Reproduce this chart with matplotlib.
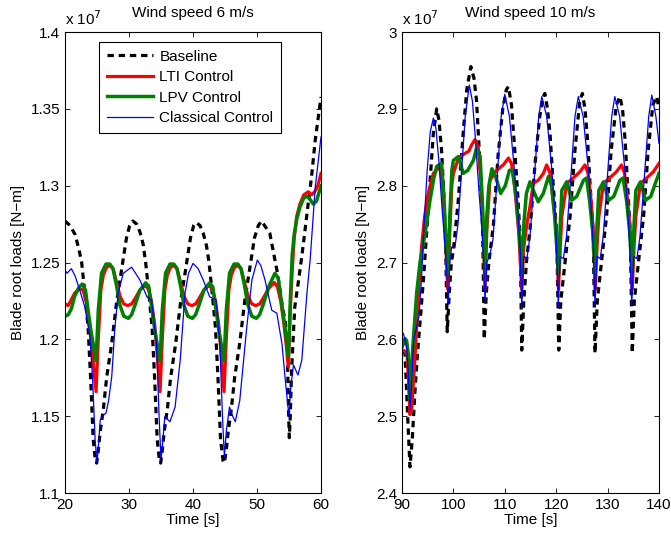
import numpy as np
import matplotlib
matplotlib.use('Agg')
import matplotlib.pyplot as plt

plt.rcParams['font.family'] = ['Liberation Sans', 'DejaVu Sans']

# ---- left panel: wind speed 6 m/s (loads in units of 1e7 N-m) ----
t6_base = [20.0, 20.8, 21.6, 22.2, 22.6, 23.1, 23.6, 24.0, 24.4, 24.75, 24.95, 25.2, 25.5, 26.0, 26.5, 27.3, 28.1, 28.9, 29.6, 30.1,
           30.6, 31.2, 31.7, 32.2, 32.6, 33.1, 33.6, 34.0, 34.4, 34.75, 34.95, 35.2, 35.5, 36.0, 36.5, 37.3, 38.1, 38.9, 39.6, 40.1,
           40.5, 41.1, 41.6, 42.1, 42.5, 43.0, 43.5, 43.9, 44.3, 44.7, 44.9, 45.2, 45.5, 46.0, 46.5, 47.3, 48.1, 48.9, 49.6, 50.2,
           50.7, 52.0, 52.6, 53.2, 53.6, 54.0, 54.4, 54.75, 54.95, 55.05, 55.2, 55.4, 55.9, 56.5, 57.0, 57.5, 58.0, 58.5, 59.1, 60.0]
y6_base = [1.277, 1.274, 1.268, 1.258, 1.250, 1.230, 1.208, 1.175, 1.135, 1.121, 1.1195, 1.128, 1.140, 1.155, 1.175, 1.1975, 1.2256, 1.247, 1.266, 1.274,
           1.277, 1.275, 1.270, 1.262, 1.250, 1.230, 1.208, 1.175, 1.135, 1.121, 1.1195, 1.128, 1.140, 1.155, 1.175, 1.1975, 1.2256, 1.247, 1.266, 1.274,
           1.276, 1.274, 1.269, 1.261, 1.250, 1.230, 1.208, 1.175, 1.135, 1.121, 1.1195, 1.128, 1.140, 1.155, 1.175, 1.1975, 1.2256, 1.247, 1.266, 1.274,
           1.277, 1.269, 1.256, 1.243, 1.232, 1.220, 1.2126, 1.190, 1.150, 1.136, 1.150, 1.180, 1.221, 1.2386, 1.254, 1.271, 1.2885, 1.305, 1.3297, 1.3577]

t6_lti = [20.0, 20.5, 21.0, 21.5, 22.2, 22.8, 23.3, 23.8, 24.3, 24.85, 25.2, 25.6, 26.0, 26.5, 27.0, 27.5, 28.0, 28.6, 29.2, 29.8,
          30.4, 31.0, 31.7, 32.5, 33.0, 33.5, 34.0, 34.4, 34.85, 35.2, 35.6, 36.0, 36.5, 37.0, 37.5, 38.0, 38.6, 39.2, 39.8,
          40.4, 41.0, 41.7, 42.5, 43.0, 43.5, 44.0, 44.4, 44.85, 45.2, 45.6, 46.0, 46.5, 47.0, 47.5, 48.0, 48.6, 49.2, 49.8,
          50.4, 51.0, 51.8, 52.7, 53.2, 53.7, 54.2, 54.6, 54.9, 55.2, 55.5, 55.8, 56.2, 56.7, 57.3, 58.0, 58.5, 59.0, 59.5, 60.0]
y6_lti = [1.223, 1.222, 1.226, 1.230, 1.233, 1.232, 1.225, 1.210, 1.190, 1.166, 1.200, 1.232, 1.242, 1.247, 1.248, 1.246, 1.238, 1.228, 1.223, 1.222,
          1.223, 1.227, 1.232, 1.235, 1.233, 1.225, 1.210, 1.190, 1.166, 1.200, 1.232, 1.242, 1.247, 1.248, 1.246, 1.238, 1.228, 1.223, 1.222,
          1.223, 1.227, 1.232, 1.235, 1.233, 1.225, 1.210, 1.190, 1.166, 1.200, 1.232, 1.242, 1.247, 1.248, 1.246, 1.238, 1.228, 1.223, 1.222,
          1.223, 1.227, 1.233, 1.237, 1.234, 1.225, 1.210, 1.195, 1.182, 1.219, 1.245, 1.265, 1.280, 1.288, 1.294, 1.296, 1.294, 1.296, 1.300, 1.308]

t6_lpv = [20.0, 20.5, 21.0, 21.5, 22.2, 22.7, 23.2, 23.6, 24.0, 24.4, 24.85, 25.2, 25.7, 26.4, 27.0, 27.5, 28.0, 28.6, 29.2, 29.9,
          30.4, 31.0, 31.7, 32.6, 33.1, 33.6, 34.0, 34.4, 34.85, 35.2, 35.7, 36.4, 37.0, 37.5, 38.0, 38.6, 39.2, 39.9,
          40.4, 41.0, 41.7, 42.6, 43.1, 43.6, 44.0, 44.4, 44.85, 45.2, 45.7, 46.4, 47.0, 47.5, 48.0, 48.6, 49.2, 49.9,
          50.4, 51.0, 51.9, 52.8, 53.3, 53.8, 54.3, 54.6, 54.9, 55.2, 55.5, 55.8, 56.2, 56.7, 57.3, 57.8, 58.3, 58.8, 59.3, 60.0]
y6_lpv = [1.215, 1.216, 1.220, 1.228, 1.234, 1.236, 1.232, 1.219, 1.207, 1.197, 1.186, 1.219, 1.243, 1.249, 1.249, 1.246, 1.236, 1.222, 1.215, 1.2137,
          1.216, 1.223, 1.232, 1.2368, 1.234, 1.219, 1.207, 1.197, 1.186, 1.219, 1.243, 1.249, 1.249, 1.246, 1.236, 1.222, 1.215, 1.2137,
          1.216, 1.223, 1.232, 1.2368, 1.234, 1.219, 1.207, 1.197, 1.186, 1.219, 1.243, 1.249, 1.249, 1.246, 1.236, 1.222, 1.215, 1.2137,
          1.216, 1.223, 1.235, 1.243, 1.240, 1.225, 1.210, 1.200, 1.189, 1.225, 1.255, 1.268, 1.278, 1.286, 1.292, 1.293, 1.291, 1.288, 1.290, 1.300]

t6_cls = [20.0, 20.3, 21.0, 21.6, 22.3, 23.1, 23.9, 24.3, 24.7, 25.0, 25.3, 25.5, 26.0, 26.4, 26.8, 27.3, 27.8, 28.3, 29.1, 30.4,
          31.7, 32.8, 33.5, 34.3, 34.7, 35.0, 35.3, 35.6, 36.0, 36.4, 37.2, 38.0, 38.75, 39.3, 40.0,
          40.8, 41.6, 42.6, 43.6, 44.2, 44.6, 44.9, 45.2, 45.7, 46.2, 46.6, 47.3, 48.4, 49.2, 50.05,
          50.6, 51.25, 52.3, 53.1, 53.9, 54.5, 55.0, 55.3, 55.7, 56.4, 57.0, 57.8, 58.3, 59.1, 60.0]
y6_cls = [1.245, 1.243, 1.246, 1.241, 1.232, 1.221, 1.2017, 1.175, 1.135, 1.1195, 1.135, 1.1475, 1.1507, 1.152, 1.160, 1.1757, 1.208, 1.230, 1.243, 1.247,
          1.2386, 1.2277, 1.2256, 1.197, 1.150, 1.1215, 1.135, 1.1497, 1.148, 1.1464, 1.156, 1.1865, 1.230, 1.243, 1.2494,
          1.246, 1.2386, 1.2277, 1.2256, 1.197, 1.150, 1.1236, 1.140, 1.156, 1.150, 1.1464, 1.160, 1.208, 1.2386, 1.2516,
          1.248, 1.2386, 1.219, 1.217, 1.197, 1.170, 1.1497, 1.170, 1.1833, 1.1768, 1.1865, 1.230, 1.2516, 1.299, 1.3317]

# ---- right panel: wind speed 10 m/s ----
t10_base = [90.0, 90.6, 91.1, 91.55, 92.0, 92.5, 93.0, 93.6, 94.2, 94.8, 95.4, 96.1, 96.75, 97.2, 97.7, 98.2, 98.5, 98.8, 99.2, 99.6,
            100.0, 100.95, 101.9, 102.6, 103.4, 104.0, 104.5, 105.2, 105.7, 106.0, 106.4, 106.9, 107.8, 108.7, 109.6, 110.3,
            110.7, 111.3, 111.9, 112.5, 113.0, 113.3, 113.7, 114.2, 115.0, 115.9, 116.8, 117.4, 117.8, 118.3, 118.8, 119.4,
            120.1, 120.5, 120.9, 121.7, 122.7, 123.65, 124.6, 125.1, 125.6, 126.1, 126.6, 127.2, 127.55, 128.0, 128.8, 129.8,
            130.7, 131.7, 132.4, 132.9, 133.4, 133.9, 134.4, 134.8, 135.2, 136.0, 137.0, 137.9, 138.8, 139.55, 140.0]
y10_base = [2.600, 2.580, 2.500, 2.434, 2.470, 2.530, 2.580, 2.630, 2.680, 2.740, 2.800, 2.868, 2.900, 2.885, 2.846, 2.780, 2.720, 2.610, 2.660, 2.700,
            2.716, 2.781, 2.868, 2.925, 2.955, 2.940, 2.911, 2.825, 2.740, 2.600, 2.660, 2.700, 2.750, 2.840, 2.900, 2.925,
            2.929, 2.905, 2.850, 2.790, 2.730, 2.586, 2.650, 2.700, 2.750, 2.830, 2.890, 2.915, 2.920, 2.900, 2.868, 2.803,
            2.738, 2.586, 2.650, 2.699, 2.760, 2.846, 2.911, 2.920, 2.900, 2.860, 2.800, 2.740, 2.582, 2.650, 2.700, 2.760,
            2.846, 2.905, 2.916, 2.900, 2.860, 2.800, 2.740, 2.582, 2.650, 2.700, 2.760, 2.846, 2.905, 2.916, 2.900]

t10_lti = [90.0, 90.5, 91.0, 91.3, 91.55, 91.9, 92.5, 93.2, 93.8, 94.4, 95.1, 96.1, 97.0, 97.4, 97.9, 98.4, 98.9, 99.3, 99.7,
           100.0, 101.0, 102.25, 103.0, 103.55, 104.2, 104.85, 105.4, 105.8, 106.15, 106.5, 107.1, 108.4, 109.7,
           110.7, 111.3, 111.9, 112.7, 113.3, 113.7, 114.3, 114.9, 115.55, 116.5, 117.5, 118.15, 118.8, 119.4,
           120.1, 120.45, 120.8, 121.1, 122.05, 123.3, 124.6, 125.6, 126.2, 126.8, 127.25, 127.6, 127.95, 128.3, 129.2,
           130.4, 131.7, 132.7, 133.3, 133.9, 134.45, 134.8, 135.15, 135.5, 136.4, 137.6, 138.9, 140.0]
y10_lti = [2.586, 2.585, 2.580, 2.540, 2.502, 2.510, 2.573, 2.660, 2.720, 2.760, 2.790, 2.816, 2.822, 2.825, 2.800, 2.740, 2.665, 2.740, 2.800,
           2.816, 2.836, 2.842, 2.845, 2.853, 2.860, 2.849, 2.800, 2.740, 2.665, 2.740, 2.807, 2.820, 2.827,
           2.836, 2.829, 2.800, 2.740, 2.665, 2.720, 2.750, 2.773, 2.803, 2.807, 2.816, 2.827, 2.816, 2.781,
           2.738, 2.665, 2.720, 2.760, 2.803, 2.810, 2.818, 2.827, 2.816, 2.780, 2.738, 2.665, 2.720, 2.760, 2.803,
           2.810, 2.818, 2.827, 2.816, 2.780, 2.738, 2.665, 2.720, 2.760, 2.803, 2.810, 2.818, 2.829]

t10_lpv = [90.0, 90.6, 90.9, 91.2, 91.55, 91.8, 92.2, 92.85, 93.5, 94.5, 95.45, 96.2, 96.75, 97.7, 98.2, 98.6, 98.9, 99.3, 99.7,
           100.0, 101.0, 101.9, 102.8, 103.9, 104.5, 105.2, 105.7, 106.15, 106.5, 106.9, 107.5, 108.3, 109.2,
           110.1, 110.9, 111.5, 112.3, 112.9, 113.3, 113.7, 114.2, 114.9, 115.55, 116.5, 117.5, 118.5, 119.1, 119.7,
           120.45, 120.8, 121.1, 122.05, 123.0, 124.0, 125.3, 125.9, 126.5, 127.1, 127.6, 127.95, 128.3, 129.2,
           130.2, 131.2, 132.4, 133.0, 133.7, 134.3, 134.8, 135.15, 135.5, 136.4, 137.4, 138.4, 139.5, 140.0]
y10_lpv = [2.590, 2.601, 2.598, 2.582, 2.521, 2.560, 2.599, 2.660, 2.700, 2.738, 2.781, 2.810, 2.825, 2.829, 2.780, 2.720, 2.686, 2.760, 2.820,
           2.833, 2.838, 2.816, 2.820, 2.833, 2.849, 2.838, 2.770, 2.686, 2.760, 2.800, 2.822, 2.810, 2.790,
           2.800, 2.820, 2.820, 2.780, 2.730, 2.686, 2.750, 2.790, 2.805, 2.794, 2.779, 2.790, 2.812, 2.800, 2.760,
           2.686, 2.750, 2.794, 2.805, 2.781, 2.786, 2.807, 2.810, 2.780, 2.740, 2.686, 2.750, 2.794, 2.805,
           2.781, 2.786, 2.807, 2.810, 2.780, 2.740, 2.686, 2.750, 2.794, 2.805, 2.781, 2.786, 2.807, 2.816]

t10_cls = [90.0, 90.3, 90.9, 91.2, 91.55, 91.9, 92.3, 92.8, 93.3, 93.8, 94.3, 94.9, 95.5, 96.1, 96.6, 97.2, 97.8, 98.4, 98.7, 99.0, 99.3, 99.65,
           100.3, 100.9, 101.6, 102.3, 103.1, 103.7, 104.3, 105.0, 105.6, 105.9, 106.15, 106.5, 107.1, 107.7, 108.6, 109.3,
           110.0, 110.9, 111.8, 112.6, 113.0, 113.3, 113.65, 114.3, 114.9, 115.9, 116.6, 117.2, 118.15, 119.1, 119.8,
           120.1, 120.4, 120.75, 121.4, 122.0, 123.0, 123.65, 124.3, 125.25, 126.2, 126.9, 127.25, 127.55, 127.9, 128.55, 129.15,
           130.1, 130.8, 131.4, 132.35, 133.3, 134.0, 134.35, 134.7, 135.05, 135.7, 136.3, 137.3, 138.0, 138.6, 139.4, 140.0]
y10_cls = [2.610, 2.607, 2.590, 2.560, 2.508, 2.550, 2.600, 2.615, 2.630, 2.680, 2.750, 2.820, 2.870, 2.888, 2.875, 2.830, 2.770, 2.720, 2.690, 2.645, 2.700, 2.720,
           2.720, 2.750, 2.820, 2.890, 2.931, 2.910, 2.860, 2.790, 2.740, 2.700, 2.649, 2.700, 2.710, 2.730, 2.820, 2.890,
           2.919, 2.890, 2.825, 2.760, 2.716, 2.640, 2.708, 2.705, 2.734, 2.825, 2.890, 2.916, 2.890, 2.825, 2.760,
           2.716, 2.6425, 2.708, 2.705, 2.734, 2.825, 2.890, 2.916, 2.890, 2.825, 2.760, 2.716, 2.6425, 2.708, 2.705, 2.734,
           2.825, 2.890, 2.916, 2.890, 2.825, 2.760, 2.716, 2.645, 2.708, 2.705, 2.734, 2.825, 2.890, 2.918, 2.890, 2.855]

labels = ['Baseline', 'LTI Control', 'LPV Control', 'Classical Control']
yt6 = [1.1, 1.15, 1.2, 1.25, 1.3, 1.35, 1.4]
yt10 = [2.4, 2.5, 2.6, 2.7, 2.8, 2.9, 3.0]
yl6 = ['1.1', '1.15', '1.2', '1.25', '1.3', '1.35', '1.4']
yl10 = ['2.4', '2.5', '2.6', '2.7', '2.8', '2.9', '3']


def draw(ax, series, xlim, xticks, yticks, ylabels, title):
    (tb, yb), (tr, yr), (tg, yg), (tc, yc) = series
    ax.plot(tb, yb, color='black', lw=2.3, ls=(0, (2.0, 1.5)), label=labels[0])
    ax.plot(tr, yr, color='red', lw=2.3, label=labels[1])
    ax.plot(tg, yg, color=(0, 0.5, 0), lw=2.5, label=labels[2])
    ax.plot(tc, yc, color='blue', lw=0.9, label=labels[3])
    ax.set_xlim(xlim)
    ax.set_ylim(yticks[0], yticks[-1])
    ax.set_xticks(xticks)
    ax.set_yticks(yticks)
    ax.set_yticklabels(ylabels)
    ax.tick_params(direction='in', top=True, right=True, length=3.5, width=0.6, labelsize=11)
    for s in ax.spines.values():
        s.set_linewidth(0.8)
    ax.set_xlabel('Time [s]', fontsize=11, labelpad=1)
    ax.set_ylabel('Blade root loads [N\u2212m]', fontsize=11, labelpad=4)
    ax.set_title(title, fontsize=11, pad=11)
    ax.text(0.0, 1.008, r'x 10$^{7}$', transform=ax.transAxes, fontsize=11, ha='left', va='bottom')


fig = plt.figure(figsize=(6.71, 5.37), dpi=100)
ax1 = fig.add_axes([0.0969, 0.0819, 0.3815, 0.8585])
ax2 = fig.add_axes([0.5991, 0.0819, 0.3830, 0.8585])

draw(ax1, [(t6_base, y6_base), (t6_lti, y6_lti), (t6_lpv, y6_lpv), (t6_cls, y6_cls)],
     (20, 60), [20, 30, 40, 50, 60], yt6, yl6, 'Wind speed 6 m/s')
draw(ax2, [(t10_base, y10_base), (t10_lti, y10_lti), (t10_lpv, y10_lpv), (t10_cls, y10_cls)],
     (90, 140), [90, 100, 110, 120, 130, 140], yt10, yl10, 'Wind speed 10 m/s')

leg = ax1.legend(loc='upper left', bbox_to_anchor=(0.133, 0.978), fontsize=11, handlelength=3.0,
                 fancybox=False, edgecolor='black', framealpha=1, labelspacing=0.42,
                 borderpad=0.5, handletextpad=0.45, borderaxespad=0)
leg.get_frame().set_linewidth(0.8)

fig.savefig('out.png', dpi=100)
